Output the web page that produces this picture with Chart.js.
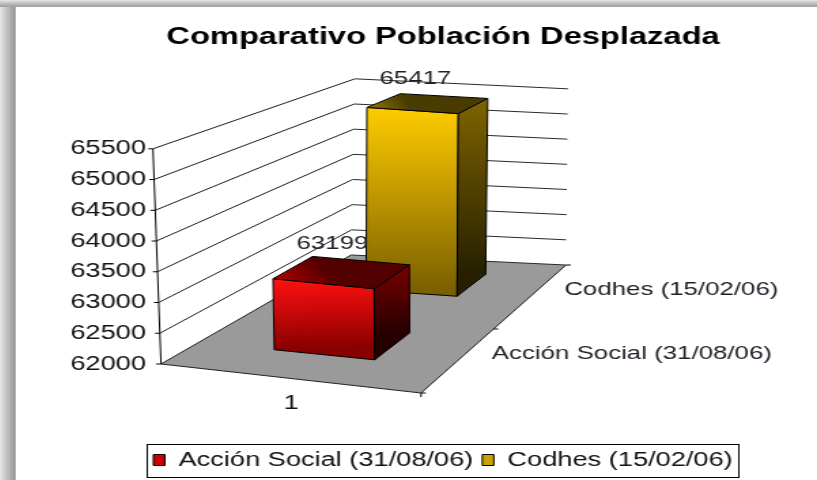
<!DOCTYPE html>
<html>
<head>
<meta charset="utf-8">
<title>Comparativo Población Desplazada</title>
<script src="https://cdn.jsdelivr.net/npm/chart.js@4.4.1/dist/chart.umd.min.js"></script>
<style>
    html, body { margin: 0; padding: 0; background: #fff; overflow: hidden; }
    body { width: 817px; height: 480px; position: relative; }
    #sombraIzq { position: absolute; left: 0; top: 0; width: 16px; height: 480px;
        background: linear-gradient(to right, #e6e6e6, #b4b4b4 60%, #9a9a9a 90%, #c8c8c8); }
    #sombraSup { position: absolute; left: 0; top: 0; width: 817px; height: 7px;
        background: linear-gradient(to bottom, #e6e6e6, #b0b0b0 70%, #a0a0a0); }
    /* el grafico original esta estirado en horizontal */
    #marco { position: absolute; left: 16px; top: 7px; width: 628px; height: 473px;
        transform: scaleX(1.36); transform-origin: 0 0; }
</style>
</head>
<body>
<div id="sombraIzq"></div>
<div id="sombraSup"></div>
<div id="marco"><canvas id="graficoPoblacion" width="628" height="473"></canvas></div>
<script>
// Datos del grafico
const categorias = ['1'];
const series = ['Acción Social (31/08/06)', 'Codhes (15/02/06)'];
const valoresAccionSocial = [63199];
const valoresCodhes = [65417];
const ticksEje = [62000, 62500, 63000, 63500, 64000, 64500, 65000, 65500];

/**
 * Colores de cada serie (frente, lado, tapa y leyenda)
 */
const coloresSerie = [
    { leyenda: '#cc0000', frente: ['#ff1010', '#880000'], lado: ['#7a0000', '#260000'], tapa: ['#520000', '#b40000'] },
    { leyenda: '#c8a200', frente: ['#ffcc00', '#7a6000'], lado: ['#7e6400', '#262000'], tapa: ['#4a3c00', '#94780a'] }
];

/**
 * Geometria de la vista 3D (pixeles del canvas)
 */
const vista = {
    anchoEjeY: 106.6,
    margenDerecho: 330.2,
    caidaFrente: 29,             // el borde frontal baja hacia la derecha
    fondoIzq: { dx: 139.7, dy: -109 },
    fondoDer: { dx: 106.6, dy: -128 },
    escalaFondo: 0.8186,         // la pared del fondo se ve mas pequeña
    inclinacion: { fl: -5.9, fr: 0, bl: 2.9, br: 1.5 },
    filas: [[0.2, 0.42], [0.72, 0.9]]
};

const lerp = (a, b, t) => a + (b - a) * t;

/**
 * Proyecta (u, d, valor) del espacio del grafico al canvas
 */
function proyectar(chart, u, d, valor) {
    const area = chart.chartArea;
    const ejeY = chart.scales.y;
    const fl = { x: area.left, y: area.bottom };
    const fr = { x: area.right, y: area.bottom + vista.caidaFrente };
    const bl = { x: fl.x + vista.fondoIzq.dx, y: fl.y + vista.fondoIzq.dy };
    const br = { x: fr.x + vista.fondoDer.dx, y: fr.y + vista.fondoDer.dy };

    const x = lerp(lerp(fl.x, fr.x, u), lerp(bl.x, br.x, u), d);
    const y = lerp(lerp(fl.y, fr.y, u), lerp(bl.y, br.y, u), d);
    const altura = (ejeY.getPixelForValue(ejeY.min) - ejeY.getPixelForValue(valor)) * lerp(1, vista.escalaFondo, d);
    const frac = (valor - ejeY.min) / (ejeY.max - ejeY.min);
    const inc = vista.inclinacion;
    const desvio = lerp(lerp(inc.fl, inc.fr, u), lerp(inc.bl, inc.br, u), d) * frac;
    return { x: x + desvio, y: y - altura };
}

function poligono(ctx, puntos, relleno, borde) {
    ctx.beginPath();
    ctx.moveTo(puntos[0].x, puntos[0].y);
    for (let i = 1; i < puntos.length; i++) ctx.lineTo(puntos[i].x, puntos[i].y);
    ctx.closePath();
    if (relleno) { ctx.fillStyle = relleno; ctx.fill(); }
    if (borde) { ctx.strokeStyle = borde; ctx.lineWidth = 1; ctx.stroke(); }
}

function linea(ctx, a, b, color) {
    ctx.beginPath();
    ctx.moveTo(a.x, a.y);
    ctx.lineTo(b.x, b.y);
    ctx.strokeStyle = color;
    ctx.lineWidth = 1;
    ctx.stroke();
}

function degradado(ctx, a, b, colores) {
    const g = ctx.createLinearGradient(a.x, a.y, b.x, b.y);
    g.addColorStop(0, colores[0]);
    g.addColorStop(1, colores[1]);
    return g;
}

/**
 * Etiquetas de valor sobre cada columna y nombres de serie en el eje de profundidad
 */
function dibujarEtiquetas(chart) {
    const ctx = chart.ctx;
    const ejeY = chart.scales.y;
    ctx.save();
    ctx.font = '19px "Liberation Sans", Arial, sans-serif';
    ctx.fillStyle = '#1e1e28';
    ctx.textBaseline = 'middle';

    chart.data.datasets.forEach((ds, i) => {
        const [d0, d1] = vista.filas[i];
        const meta = chart.getDatasetMeta(i);
        meta.data.forEach((el, j) => {
            const u = (el.x - chart.chartArea.left) / chart.chartArea.width;
            const p = proyectar(chart, u, d1, ds.data[j]);
            ctx.textAlign = 'center';
            ctx.fillText(String(ds.data[j]), p.x - 21, p.y - 17);
        });
        const q = proyectar(chart, 1, (d0 + d1) / 2, ejeY.min);
        ctx.textAlign = 'left';
        ctx.fillText(ds.label, q.x + 19, q.y);
    });
    ctx.restore();
}

/**
 * Dibuja piso, paredes, ejes y columnas 3D usando las escalas de Chart.js
 */
const plugin3D = {
    id: 'columnas3D',
    beforeDatasetsDraw(chart) {
        const ctx = chart.ctx;
        const ejeY = chart.scales.y;
        const vMin = ejeY.min;
        ctx.save();

        // piso
        const piso = [proyectar(chart, 0, 0, vMin), proyectar(chart, 1, 0, vMin),
            proyectar(chart, 1, 1, vMin), proyectar(chart, 0, 1, vMin)];
        poligono(ctx, piso, '#9a9a9a', null);

        // lineas de division en pared izquierda y del fondo
        ejeY.ticks.forEach(t => {
            const frente = proyectar(chart, 0, 0, t.value);
            const esquina = proyectar(chart, 0, 1, t.value);
            const derecha = proyectar(chart, 1, 1, t.value);
            linea(ctx, frente, esquina, '#1c1c1c');
            linea(ctx, esquina, derecha, '#2a2a2a');
            linea(ctx, frente, { x: frente.x - 3.5, y: frente.y }, '#000');
        });

        // eje de valores
        linea(ctx, proyectar(chart, 0, 0, vMin), proyectar(chart, 0, 0, ejeY.max), '#000');

        // bordes del piso y marcas
        linea(ctx, piso[0], piso[1], '#222');
        linea(ctx, piso[1], piso[2], '#222');
        [0, 0.5, 1].forEach(d => {
            const p = proyectar(chart, 1, d, vMin);
            linea(ctx, p, { x: p.x + 3.5, y: p.y }, '#000');
        });
        linea(ctx, piso[1], { x: piso[1].x, y: piso[1].y + 4 }, '#000');

        // columnas: primero la fila del fondo
        for (let i = chart.data.datasets.length - 1; i >= 0; i--) {
            const meta = chart.getDatasetMeta(i);
            const [d0, d1] = vista.filas[i];
            const col = coloresSerie[i];
            meta.data.forEach((el, j) => {
                const valor = chart.data.datasets[i].data[j];
                const { x, width } = el.getProps(['x', 'width'], true);
                const u0 = (x - width / 2 - chart.chartArea.left) / chart.chartArea.width;
                const u1 = (x + width / 2 - chart.chartArea.left) / chart.chartArea.width;

                const fInfIzq = proyectar(chart, u0, d0, vMin);
                const fInfDer = proyectar(chart, u1, d0, vMin);
                const fSupIzq = proyectar(chart, u0, d0, valor);
                const fSupDer = proyectar(chart, u1, d0, valor);
                const aInfDer = proyectar(chart, u1, d1, vMin);
                const aSupIzq = proyectar(chart, u0, d1, valor);
                const aSupDer = proyectar(chart, u1, d1, valor);

                poligono(ctx, [fSupIzq, fSupDer, fInfDer, fInfIzq],
                    degradado(ctx, fSupIzq, fInfIzq, col.frente), '#000');
                poligono(ctx, [fSupDer, aSupDer, aInfDer, fInfDer],
                    degradado(ctx, aSupDer, aInfDer, col.lado), '#000');
                poligono(ctx, [aSupIzq, aSupDer, fSupDer, fSupIzq],
                    degradado(ctx, aSupIzq, fSupIzq, col.tapa), '#000');
            });
        }

        ctx.restore();
        dibujarEtiquetas(chart);
        return false;
    },
    afterDraw(chart) {
        // recuadro de la leyenda
        const cajas = chart.legend.legendHitBoxes;
        if (!cajas || !cajas.length) return;
        const izq = Math.min(...cajas.map(c => c.left)) - 5;
        const der = Math.max(...cajas.map(c => c.left + c.width)) + 4;
        const centro = cajas[0].top + cajas[0].height / 2;
        const ctx = chart.ctx;
        ctx.save();
        ctx.strokeStyle = '#000';
        ctx.lineWidth = 1;
        ctx.strokeRect(Math.round(izq) + 0.5, Math.round(centro - 16) + 0.5, Math.round(der - izq), 33);
        ctx.restore();
    }
};

document.addEventListener('DOMContentLoaded', function () {
    Chart.defaults.font.family = '"Liberation Sans", Arial, sans-serif';
    Chart.defaults.color = '#111';

    const ctx = document.getElementById('graficoPoblacion').getContext('2d');
    new Chart(ctx, {
        type: 'bar',
        data: {
            labels: categorias,
            datasets: [{
                label: series[0],
                data: valoresAccionSocial,
                backgroundColor: coloresSerie[0].leyenda,
                borderColor: '#000',
                borderWidth: 1,
                grouped: false,
                categoryPercentage: 0.4,
                barPercentage: 1
            }, {
                label: series[1],
                data: valoresCodhes,
                backgroundColor: coloresSerie[1].leyenda,
                borderColor: '#000',
                borderWidth: 1,
                grouped: false,
                categoryPercentage: 0.4,
                barPercentage: 1
            }]
        },
        options: {
            responsive: false,
            animation: false,
            events: [],
            layout: { padding: 0 },
            plugins: {
                title: {
                    display: true,
                    text: 'Comparativo Población Desplazada',
                    color: '#000',
                    font: { size: 24, weight: 'bold' },
                    padding: { top: 16, bottom: 97 }
                },
                legend: {
                    position: 'bottom',
                    labels: {
                        boxWidth: 8.5,
                        boxHeight: 11,
                        padding: 6.6,
                        color: '#111',
                        font: { size: 20 }
                    }
                },
                tooltip: { enabled: false }
            },
            scales: {
                x: {
                    grid: { display: false, drawTicks: false },
                    border: { display: false },
                    ticks: { padding: 27.6, font: { size: 20 } },
                    afterFit: s => { s.height = 79.4; }
                },
                y: {
                    min: ticksEje[0],
                    max: ticksEje[ticksEje.length - 1],
                    grid: { display: false, drawTicks: false },
                    border: { display: false },
                    ticks: {
                        stepSize: 500,
                        padding: 11,
                        font: { size: 20 },
                        callback: function (valor) {
                            return String(valor);
                        }
                    },
                    afterBuildTicks: s => { s.ticks = ticksEje.map(v => ({ value: v })); },
                    afterFit: s => { s.width = vista.anchoEjeY; }
                },
                relleno: {
                    type: 'linear',
                    position: 'right',
                    grid: { display: false },
                    border: { display: false },
                    ticks: { display: false },
                    afterFit: s => { s.width = vista.margenDerecho; }
                }
            }
        },
        plugins: [plugin3D]
    });
});
</script>
</body>
</html>
